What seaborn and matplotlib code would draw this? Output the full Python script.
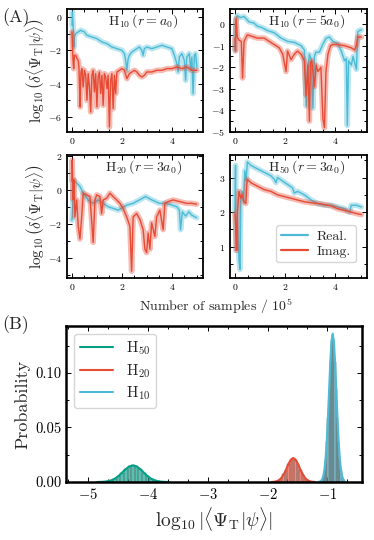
import numpy as np
import pandas as pd
import matplotlib
matplotlib.use("Agg")
import matplotlib.pyplot as plt
from matplotlib.lines import Line2D
from matplotlib.ticker import AutoMinorLocator, MultipleLocator, FormatStrFormatter
import seaborn as sns

sns.set_style("ticks")
plt.rcParams["font.family"] = "serif"
plt.rcParams["font.serif"] = ["cmr10"]
plt.rcParams["mathtext.fontset"] = "cm"
plt.rcParams["axes.formatter.use_mathtext"] = True
plt.rcParams["axes.unicode_minus"] = True

RED = "#E64B35"
BLUE = "#4DBBD5"
GREEN = "#00A087"

# ---- panel A data (x in units of 1e5 samples) ----
tl_real_x = [0.0, 0.02, 0.05, 0.08, 0.1, 0.15, 0.25, 0.35, 0.5, 0.6, 0.8, 1.0, 1.2, 1.4, 1.6, 1.8,
             2.0, 2.1, 2.15, 2.2, 2.25, 2.3, 2.4, 2.5, 2.6, 2.7, 2.8, 2.85, 2.9, 3.0, 3.2, 3.4, 3.6,
             3.8, 4.0, 4.1, 4.2, 4.25, 4.3, 4.4, 4.5, 4.55, 4.6, 4.7, 4.75, 4.8, 4.85, 4.9, 4.95, 5.0]
tl_real_y = [-0.5, 0.3, -0.6, -1.8, -1.2, -1.0, -0.9, -0.8, -0.9, -1.1, -1.2, -1.3, -1.5, -1.6, -1.8, -1.9,
             -2.0, -2.2, -2.6, -3.2, -2.5, -2.3, -2.1, -2.0, -1.9, -1.8, -2.0, -2.3, -1.9, -1.8, -1.9, -1.8, -1.7,
             -1.8, -1.9, -2.3, -2.8, -3.3, -2.4, -2.2, -2.6, -3.8, -2.4, -2.2, -3.2, -2.4, -4.6, -2.3, -2.2, -3.0]
tl_imag_x = [0.0, 0.02, 0.04, 0.07, 0.1, 0.15, 0.2, 0.25, 0.28, 0.3, 0.33, 0.36, 0.4, 0.45, 0.5, 0.55,
             0.6, 0.65, 0.7, 0.75, 0.8, 0.85, 0.9, 0.95, 1.0, 1.05, 1.1, 1.15, 1.2, 1.25, 1.3, 1.35, 1.4,
             1.45, 1.5, 1.55, 1.6, 1.65, 1.7, 1.75, 1.8, 1.9, 2.0, 2.1, 2.2, 2.3, 2.4, 2.5, 2.6, 2.7, 2.8,
             2.9, 3.0, 3.2, 3.4, 3.6, 3.8, 4.0, 4.2, 4.4, 4.6, 4.8, 5.0]
tl_imag_y = [-0.9, -1.5, -2.5, -3.1, -2.3, -2.3, -2.5, -2.6, -3.0, -4.0, -5.4, -3.3, -3.1, -4.2, -3.2, -3.5,
             -5.0, -3.4, -4.2, -5.7, -3.5, -3.2, -4.5, -3.4, -5.4, -3.6, -3.3, -4.6, -3.5, -5.3, -3.4, -3.6, -4.3,
             -3.5, -6.6, -3.8, -3.4, -5.5, -3.5, -4.6, -3.3, -3.2, -3.1, -3.2, -3.7, -3.4, -3.3, -3.2, -3.3, -3.5, -3.6,
             -3.5, -3.3, -3.3, -3.2, -3.2, -3.1, -3.1, -3.0, -3.1, -3.0, -3.2, -3.2]

tr_real_x = [0.0, 0.03, 0.09, 0.2, 0.36, 0.56, 0.75, 0.89, 1.05, 1.29, 1.56, 1.83, 2.09, 2.36, 2.63, 2.76,
             2.83, 2.89, 2.96, 3.03, 3.1, 3.16, 3.22, 3.36, 3.49, 3.63, 3.76, 3.89, 4.09, 4.23, 4.36, 4.43,
             4.47, 4.52, 4.63, 4.7, 4.83, 4.89, 4.95, 5.03]
tr_real_y = [-1.2, 0.1, 0.4, 0.3, 0.35, 0.1, 0.05, -0.1, -0.15, -0.3, -0.4, -0.65, -0.8, -0.85, -1.0, -1.2,
             -3.8, -2.2, -1.4, -1.6, -3.9, -1.5, -1.3, -1.3, -0.95, -0.65, -0.6, -0.8, -0.9, -1.25, -1.7, -1.6,
             -4.7, -1.7, -1.9, -1.5, -2.1, -0.35, -0.3, -0.27]
tr_imag_x = [0.0, 0.02, 0.04, 0.09, 0.16, 0.25, 0.3, 0.36, 0.49, 0.63, 0.89, 1.16, 1.36, 1.56, 1.76, 1.9,
             2.03, 2.09, 2.23, 2.36, 2.49, 2.63, 2.76, 2.83, 2.9, 2.96, 3.0, 3.06, 3.16, 3.23, 3.3, 3.42,
             3.5, 3.56, 3.62, 3.7, 3.8, 3.89, 4.09, 4.36, 4.63, 4.76, 4.83, 4.89, 5.03]
tr_imag_y = [-0.65, -1.25, 0.25, -0.6, -0.75, -0.8, -2.5, -0.8, -0.5, -0.55, -0.65, -0.65, -0.8, -0.95, -1.1, -1.4,
             -2.2, -1.25, -1.65, -1.4, -1.25, -1.4, -1.7, -3.3, -1.9, -4.5, -1.8, -1.7, -2.9, -1.9, -2.2, -2.0,
             -4.4, -4.8, -2.2, -1.4, -1.0, -0.95, -0.95, -1.0, -1.1, -1.2, -1.0, -0.6, -0.6]

bl_real_x = [0.0, 0.03, 0.05, 0.19, 0.32, 0.45, 0.65, 0.85, 1.05, 1.25, 1.45, 1.65, 1.85, 2.2, 2.45, 2.7,
             2.95, 3.2, 3.5, 3.75, 4.0, 4.2, 4.3, 4.35, 4.42, 4.55, 4.68, 4.8, 4.99]
bl_real_y = [-1.8, -1.0, 0.6, 0.4, 0.2, -0.2, -0.6, -0.8, -0.6, -0.8, -1.0, -1.1, -1.2, -0.9, -0.8, -0.6,
             -0.4, -0.6, -0.8, -0.8, -0.9, -1.0, -1.2, -2.35, -1.3, -1.55, -1.3, -1.5, -1.65]
bl_imag_x = [0.0, 0.01, 0.05, 0.08, 0.12, 0.19, 0.25, 0.32, 0.39, 0.45, 0.59, 0.72, 0.85, 0.92, 0.99, 1.12,
             1.19, 1.25, 1.39, 1.52, 1.65, 1.79, 1.92, 2.05, 2.19, 2.32, 2.39, 2.45, 2.59, 2.72, 2.85, 2.92,
             2.99, 3.05, 3.12, 3.19, 3.32, 3.39, 3.52, 3.65, 3.72, 3.85, 4.05, 4.32, 4.59, 4.79, 4.99]
bl_imag_y = [0.5, 1.75, -0.6, 0.6, -1.6, -0.6, -2.15, -2.9, -1.6, -0.2, -0.3, -0.4, -3.1, -0.6, -0.3, -0.4,
             -1.4, -0.6, -0.5, -0.2, -0.4, -0.6, -0.8, -1.1, -1.6, -2.15, -4.8, -1.6, -1.4, -1.75, -2.35, -3.5,
             -3.7, -2.55, -3.5, -1.95, -2.75, -1.6, -1.2, -2.35, -0.8, -0.7, -0.6, -0.7, -0.8, -0.8, -0.85]

br_real_x = [0.0, 0.02, 0.03, 0.09, 0.16, 0.2, 0.23, 0.29, 0.33, 0.39, 0.44, 0.49, 0.63, 0.89, 1.16, 1.43,
             1.56, 1.63, 1.69, 1.89, 2.09, 2.29, 2.36, 2.49, 2.76, 3.03, 3.29, 3.56, 3.83, 4.09, 4.36, 4.56,
             4.63, 4.83, 5.03]
br_real_y = [2.0, 3.35, 0.9, 1.85, 0.6, 0.35, 2.35, 2.6, 2.3, 3.2, 2.9, 3.45, 3.35, 3.25, 3.15, 3.05,
             2.95, 2.85, 3.0, 2.9, 2.8, 2.7, 2.55, 2.6, 2.5, 2.35, 2.25, 2.2, 2.2, 2.15, 2.1, 2.0,
             2.2, 2.2, 2.15]
br_imag_x = [0.0, 0.04, 0.07, 0.09, 0.16, 0.23, 0.29, 0.36, 0.43, 0.47, 0.49, 0.63, 0.89, 1.16, 1.43, 1.69,
             1.96, 2.23, 2.49, 2.76, 3.03, 3.29, 3.56, 3.83, 4.09, 4.36, 4.63, 4.89, 5.03]
br_imag_y = [1.95, 1.4, 0.9, 2.0, 2.6, 2.4, 2.5, 2.3, 2.25, 2.8, 2.95, 2.85, 2.75, 2.65, 2.6, 2.5,
             2.45, 2.4, 2.35, 2.3, 2.27, 2.25, 2.22, 2.18, 2.1, 2.05, 2.0, 1.95, 1.93]

# ---- panel B data: histogram bin centres and probabilities ----
h10_x = [-1.15, -1.13, -1.11, -1.09, -1.07, -1.05, -1.03, -1.01, -0.99, -0.97, -0.95, -0.93,
         -0.91, -0.89, -0.87, -0.85, -0.83, -0.81, -0.79, -0.77, -0.75, -0.73, -0.71]
h10_p = [0.0001, 0.0003, 0.0007, 0.002, 0.0049, 0.0106, 0.021, 0.037, 0.059, 0.085, 0.110, 0.129,
         0.136, 0.129, 0.110, 0.085, 0.059, 0.037, 0.021, 0.0106, 0.0049, 0.002, 0.0007]
h20_x = [-1.93, -1.89, -1.85, -1.81, -1.77, -1.73, -1.69, -1.65, -1.61, -1.57, -1.53, -1.49,
         -1.45, -1.41, -1.37, -1.33, -1.29, -1.25, -1.21]
h20_p = [0.00006, 0.0002, 0.0006, 0.0016, 0.0036, 0.0069, 0.0114, 0.0165, 0.0205, 0.022, 0.0205,
         0.0165, 0.0114, 0.0069, 0.0036, 0.0016, 0.0006, 0.0002, 0.00006]
h50_x = [-4.85, -4.79, -4.73, -4.67, -4.61, -4.55, -4.49, -4.43, -4.37, -4.31, -4.25, -4.19, -4.13,
         -4.07, -4.01, -3.95, -3.89, -3.83, -3.77, -3.71, -3.65]
h50_p = [0.00003, 0.0001, 0.0003, 0.0007, 0.0016, 0.0032, 0.0056, 0.0087, 0.0119, 0.0143, 0.0152,
         0.0143, 0.0119, 0.0087, 0.0056, 0.0032, 0.0016, 0.0007, 0.0003, 0.0001, 0.00003]


def style_axes(ax, size, lw):
    for s in ax.spines.values():
        s.set_linewidth(lw)
        s.set_color("black")
    ax.tick_params(which="both", direction="in", top=True, right=True, labelsize=size,
                   colors="black", width=0.7)
    ax.tick_params(which="major", length=3.5)
    ax.tick_params(which="minor", length=2)


def trace(ax, x, y, color):
    sns.lineplot(x=x, y=y, ax=ax, color=color, lw=4.0, alpha=0.38, estimator=None, sort=False)
    sns.lineplot(x=x, y=y, ax=ax, color=color, lw=1.0, estimator=None, sort=False)


fig = plt.figure(figsize=(3.74, 5.40), dpi=100)
ax_tl = fig.add_axes([0.179, 0.7556, 0.364, 0.2278])
ax_tr = fig.add_axes([0.615, 0.7556, 0.366, 0.2278])
ax_bl = fig.add_axes([0.179, 0.4852, 0.364, 0.2278])
ax_br = fig.add_axes([0.615, 0.4852, 0.366, 0.2278])
ax_b = fig.add_axes([0.1765, 0.1074, 0.7914, 0.2889])

panels = [
    (ax_tl, tl_real_x, tl_real_y, tl_imag_x, tl_imag_y, r"$\mathrm{H}_{10}\,(r = a_0)$", (-6.9, 0.48), 2),
    (ax_tr, tr_real_x, tr_real_y, tr_imag_x, tr_imag_y, r"$\mathrm{H}_{10}\,(r = 5a_0)$", (-5.0, 0.7), 1),
    (ax_bl, bl_real_x, bl_real_y, bl_imag_x, bl_imag_y, r"$\mathrm{H}_{20}\,(r = 3a_0)$", (-5.2, 2.05), 2),
    (ax_br, br_real_x, br_real_y, br_imag_x, br_imag_y, r"$\mathrm{H}_{50}\,(r = 3a_0)$", (0.1, 3.65), 1),
]
for ax, rx, ry, ix, iy, title, ylim, ystep in panels:
    trace(ax, rx, ry, BLUE)
    trace(ax, ix, iy, RED)
    ax.set_xlim(-0.2, 5.25)
    ax.set_ylim(*ylim)
    ax.xaxis.set_major_locator(MultipleLocator(2))
    ax.xaxis.set_minor_locator(MultipleLocator(0.5))
    ax.yaxis.set_major_locator(MultipleLocator(ystep))
    ax.yaxis.set_minor_locator(AutoMinorLocator(2))
    ax.set_xlabel("")
    ax.set_ylabel("")
    ax.text(0.56, 0.9, title, transform=ax.transAxes, ha="center", va="center", fontsize=10)
    style_axes(ax, 7, 1.3)
    ax.tick_params(axis="x", pad=3)

ylab = r"$\log_{10}\left(\delta\langle\Psi_\mathrm{T}|\psi\rangle\right)$"
ax_tl.set_ylabel(ylab, fontsize=11, labelpad=1)
ax_bl.set_ylabel(ylab, fontsize=11, labelpad=1)
fig.text(0.578, 0.4335, r"Number of samples / $10^5$", ha="center", va="center", fontsize=10)

handles = [Line2D([], [], color=BLUE, lw=1.6), Line2D([], [], color=RED, lw=1.6)]
leg = ax_br.legend(handles, ["Real.", "Imag."], loc="lower right", bbox_to_anchor=(0.97, 0.07),
                   fontsize=10, frameon=True, fancybox=True, handlelength=2.0, borderpad=0.35,
                   labelspacing=0.15, handletextpad=0.6)
leg.get_frame().set_edgecolor("#cccccc")

# ---- panel B ----
for xs, ps, color, width in [(h50_x, h50_p, GREEN, 0.06), (h20_x, h20_p, RED, 0.04), (h10_x, h10_p, BLUE, 0.02)]:
    hist_df = pd.DataFrame({"x": xs, "p": ps})
    sns.histplot(data=hist_df, x="x", weights="p", binwidth=width,
                 binrange=(xs[0] - width / 2, xs[-1] + width / 2), ax=ax_b, color=color,
                 alpha=0.65, edgecolor="0.35", linewidth=0.3, stat="count")
for xs, ps, color, lab in [(h50_x, h50_p, GREEN, r"H$_{50}$"), (h20_x, h20_p, RED, r"H$_{20}$"),
                           (h10_x, h10_p, BLUE, r"H$_{10}$")]:
    sns.lineplot(x=xs, y=ps, ax=ax_b, color=color, lw=1.5, label=lab, estimator=None)

ax_b.set_xlim(-5.37, -0.42)
ax_b.set_ylim(0, 0.143)
ax_b.xaxis.set_major_locator(MultipleLocator(1))
ax_b.xaxis.set_minor_locator(AutoMinorLocator(3))
ax_b.yaxis.set_major_locator(MultipleLocator(0.05))
ax_b.yaxis.set_minor_locator(AutoMinorLocator(2))
ax_b.yaxis.set_major_formatter(FormatStrFormatter("%.2f"))
ax_b.set_ylabel("Probability", fontsize=13, labelpad=3)
ax_b.set_xlabel(r"$\log_{10}|\langle\Psi_\mathrm{T}|\psi\rangle|$", fontsize=14, labelpad=2)
style_axes(ax_b, 10.5, 1.8)
legb = ax_b.legend(loc="upper left", fontsize=11, frameon=True, fancybox=True,
                   handlelength=2.2, borderpad=0.4, labelspacing=0.3)
legb.get_frame().set_edgecolor("#cccccc")

fig.text(0.005, 0.968, "(A)", fontsize=13, ha="left", va="center")
fig.text(0.005, 0.398, "(B)", fontsize=13, ha="left", va="center")

fig.savefig("out.png", dpi=100)
